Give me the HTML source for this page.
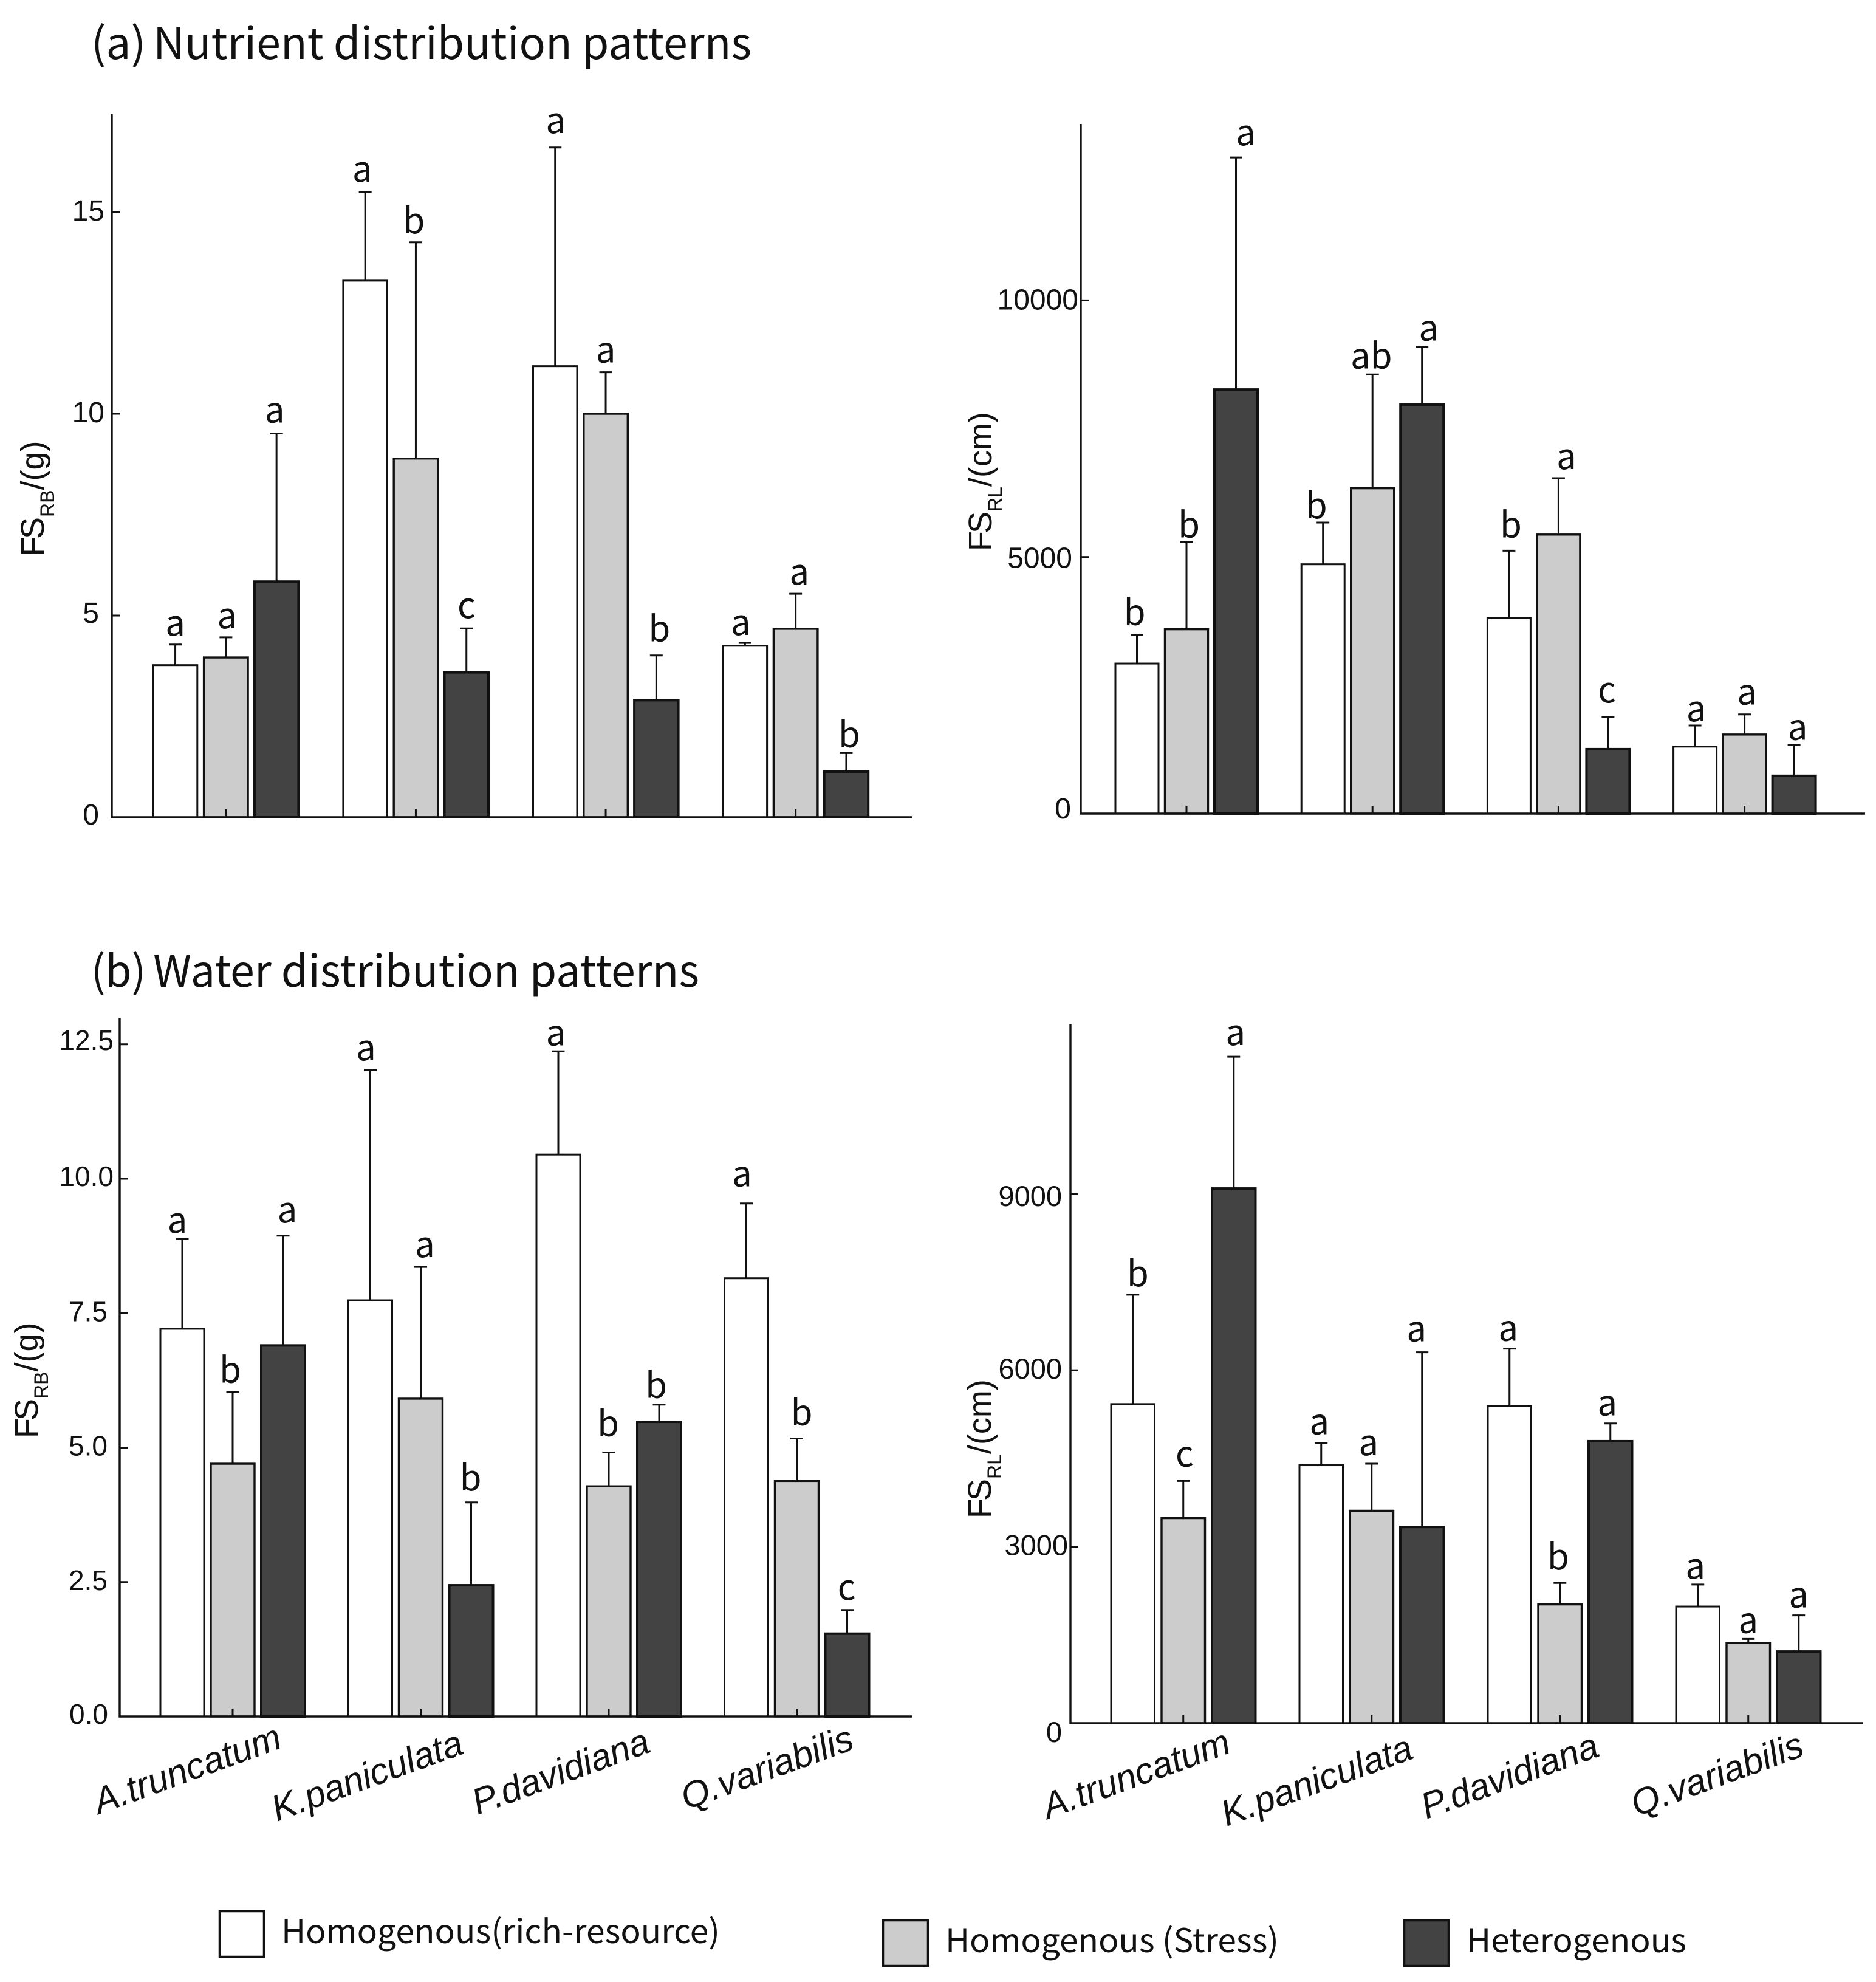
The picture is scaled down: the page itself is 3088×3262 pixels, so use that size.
<!DOCTYPE html>
<html lang="en">
<head>
<meta charset="utf-8">
<title>Foraging scale by species and distribution pattern</title>
<style>
html,body{margin:0;padding:0;background:#fff;}
svg{display:block;}
.num{font-family:"Liberation Sans",Arial,sans-serif;fill:#111;}
.noto{font-family:"Noto Sans CJK SC","Liberation Sans",sans-serif;fill:#111;}
</style>
</head>
<body>
<svg id="figure" xmlns="http://www.w3.org/2000/svg" width="3088" height="3262" viewBox="0 0 3088 3262">
  <rect x="0" y="0" width="3088" height="3262" fill="#ffffff"/>

  <text class="noto" x="150" y="97" font-size="72" textLength="90" lengthAdjust="spacingAndGlyphs">(a)</text>
  <text class="noto" x="252" y="97" font-size="72" textLength="985" lengthAdjust="spacingAndGlyphs">Nutrient distribution patterns</text>
  <text class="noto" x="150" y="1624" font-size="72" textLength="90" lengthAdjust="spacingAndGlyphs">(b)</text>
  <text class="noto" x="252" y="1624" font-size="72" textLength="899" lengthAdjust="spacingAndGlyphs">Water distribution patterns</text>

  <text class="num" transform="translate(72 916) rotate(-90)" font-size="54">F<tspan dx="-4">S</tspan><tspan dy="17" font-size="32">RB</tspan><tspan dy="-17">/(g)</tspan></text>
  <text class="num" transform="translate(1632 907) rotate(-90)" font-size="54">F<tspan dx="-4">S</tspan><tspan dy="17" font-size="32">RL</tspan><tspan dy="-17">/(cm)</tspan></text>
  <text class="num" transform="translate(62 2367) rotate(-90)" font-size="54">F<tspan dx="-4">S</tspan><tspan dy="17" font-size="32">RB</tspan><tspan dy="-17">/(g)</tspan></text>
  <text class="num" transform="translate(1631 2499) rotate(-90)" font-size="54">F<tspan dx="-4">S</tspan><tspan dy="17" font-size="32">RL</tspan><tspan dy="-17">/(cm)</tspan></text>

  <g id="panels"></g>

  <g>
    <g>
      <rect x="361.5" y="3145.5" width="73" height="75" fill="#ffffff" stroke="#111" stroke-width="3.5"/>
      <text class="noto" x="463" y="3198" font-size="54" textLength="722" lengthAdjust="spacingAndGlyphs">Homogenous(rich-resource)</text>
    </g>
    <g>
      <rect x="1453.5" y="3160.5" width="74" height="75" fill="#cccccc" stroke="#111" stroke-width="3.5"/>
      <text class="noto" x="1556" y="3213" font-size="54" textLength="549" lengthAdjust="spacingAndGlyphs">Homogenous (Stress)</text>
    </g>
    <g>
      <rect x="2311.5" y="3160.5" width="73" height="75" fill="#434343" stroke="#111" stroke-width="3.5"/>
      <text class="noto" x="2414" y="3213" font-size="54" textLength="362" lengthAdjust="spacingAndGlyphs">Heterogenous</text>
    </g>
  </g>
</svg>

<script>
const categories = ['A.truncatum', 'K.paniculata', 'P.davidiana', 'Q.variabilis'];
const seriesNames = ['rich-resource', 'stress', 'heterogenous'];

const nutrientBiomassTicks = [0, 5, 10, 15];
const nutrientBiomassTickLabels = ['0', '5', '10', '15'];
const nutrientBiomassRich = [3.77, 13.3, 11.18, 4.25];
const nutrientBiomassStress = [3.96, 8.89, 10.0, 4.67];
const nutrientBiomassHetero = [5.84, 3.59, 2.90, 1.13];
const nutrientBiomassRichSd = [0.51, 2.2, 5.42, 0.07];
const nutrientBiomassStressSd = [0.5, 5.36, 1.03, 0.87];
const nutrientBiomassHeteroSd = [3.67, 1.09, 1.11, 0.46];
const nutrientBiomassLetters = ['a','a','a', 'a','b','c', 'a','a','b', 'a','a','b'];

const nutrientLengthTicks = [0, 5000, 10000];
const nutrientLengthTickLabels = ['0', '5000', '10000'];
const nutrientLengthRich = [2924, 4858, 3807, 1305];
const nutrientLengthStress = [3592, 6339, 5437, 1541];
const nutrientLengthHetero = [8263, 7968, 1256, 736];
const nutrientLengthRichSd = [560, 814, 1315, 412];
const nutrientLengthStressSd = [1707, 2218, 1098, 392];
const nutrientLengthHeteroSd = [4523, 1129, 628, 608];
const nutrientLengthLetters = ['b','b','a', 'b','ab','a', 'b','a','c', 'a','a','a'];

const waterBiomassTicks = [0, 2.5, 5, 7.5, 10, 12.5];
const waterBiomassTickLabels = ['0.0', '2.5', '5.0', '7.5', '10.0', '12.5'];
const waterBiomassRich = [7.21, 7.74, 10.45, 8.15];
const waterBiomassStress = [4.70, 5.91, 4.28, 4.38];
const waterBiomassHetero = [6.90, 2.44, 5.48, 1.54];
const waterBiomassRichSd = [1.67, 4.28, 1.92, 1.39];
const waterBiomassStressSd = [1.34, 2.45, 0.63, 0.79];
const waterBiomassHeteroSd = [2.04, 1.54, 0.32, 0.44];
const waterBiomassLetters = ['a','b','a', 'a','a','b', 'a','b','b', 'a','b','c'];

const waterLengthTicks = [0, 3000, 6000, 9000];
const waterLengthTickLabels = ['0', '3000', '6000', '9000'];
const waterLengthRich = [5425, 4385, 5390, 1983];
const waterLengthStress = [3486, 3611, 2019, 1361];
const waterLengthHetero = [9090, 3335, 4794, 1218];
const waterLengthRichSd = [1859, 373, 978, 374];
const waterLengthStressSd = [632, 800, 365, 71];
const waterLengthHeteroSd = [2241, 2971, 302, 614];
const waterLengthLetters = ['b','c','a', 'a','a','a', 'a','b','a', 'a','a','a'];

const NS = 'http://www.w3.org/2000/svg';
const INK = '#111';
const FILLS = ['#ffffff', '#cccccc', '#434343'];
const BAR_STROKES = [3, 3.4, 4];
const root = document.getElementById('panels');

function create(tag, parent, props) {
  const el = document.createElementNS(NS, tag);
  for (const k in props) el.setAttribute(k, props[k]);
  parent.appendChild(el);
  return el;
}

function drawPanel(p) {
  const g = create('g', root, {});
  
  

  const yScale = v => p.baseY - v * p.pxPerUnit;
  const barLeft = (group, s) => p.firstBar + group * p.groupStep + s * p.barStep;

  p.values.forEach((series, s) => {
    series.forEach((value, i) => {
      const left = barLeft(i, s);
      const cx = left + p.barWidth / 2;
      const topY = yScale(value);
      const errY = yScale(value + p.sds[s][i]);

      const stem = create('line', g, {x1: cx, x2: cx, y1: topY, y2: errY, stroke: INK, 'stroke-width': 3});
      
      

      const cap = create('line', g, {x1: cx - 10.5, x2: cx + 10.5, y1: errY, y2: errY, stroke: INK, 'stroke-width': 3});
      
      

      const bar = create('rect', g, {x: left, y: topY, width: p.barWidth, height: p.baseY - topY, fill: FILLS[s], stroke: INK, 'stroke-width': BAR_STROKES[s]});
      
      

      const k = i * 3 + s;
      const letter = create('text', g, {x: cx + p.letterDx[k], y: errY - p.letterGap[k], 'font-size': 58, 'text-anchor': 'middle', class: 'noto'});
      letter.textContent = p.letters[k];
      
      
    });
  });

  const yAxis = create('line', g, {x1: p.axisX, x2: p.axisX, y1: p.axisTop, y2: p.baseY + 1.5, stroke: INK, 'stroke-width': 3.4});
  
  

  const xAxis = create('line', g, {x1: p.axisX - 1.5, x2: p.axisRight, y1: p.baseY, y2: p.baseY, stroke: INK, 'stroke-width': 3.4});
  
  

  p.ticks.forEach((t, i) => {
    const y = yScale(t);
    if (t !== 0) {
      const tick = create('line', g, {x1: p.axisX, x2: p.axisX + 13, y1: y, y2: y, stroke: INK, 'stroke-width': 3});
      
      
    }
    const label = create('text', g, {x: p.labelEnds[i], y: y + p.labelDy[i], 'font-size': p.tickFont, 'text-anchor': 'end', class: 'num'});
    label.textContent = p.tickLabels[i];
    
    
  });

  categories.forEach((name, i) => {
    const cx = barLeft(i, 1) + p.barWidth / 2;
    const tick = create('line', g, {x1: cx, x2: cx, y1: p.baseY, y2: p.baseY - 13, stroke: INK, 'stroke-width': 3});
    
    
    if (p.catStarts) {
      const s = p.catStarts[i];
      const label = create('text', g, {transform: 'translate(' + s[0] + ' ' + s[1] + ') rotate(-20)', 'font-size': 60, 'font-style': 'italic', class: 'num'});
      label.textContent = name;
      
      
    }
  });
}

drawPanel({
  name: 'panel-nutrient-biomass',
  axisX: 184, axisTop: 188, axisRight: 1501, baseY: 1345, pxPerUnit: 66.4,
  firstBar: 252.3, barWidth: 72.5, barStep: 83.3, groupStep: 312.6,
  values: [nutrientBiomassRich, nutrientBiomassStress, nutrientBiomassHetero],
  sds: [nutrientBiomassRichSd, nutrientBiomassStressSd, nutrientBiomassHeteroSd],
  letters: nutrientBiomassLetters,
  letterDx: [0,2,-3, -5,-3,0, 1,0,5, -7,6,5],
  letterGap: [15,15,18, 17,15,17, 24,16,23, 13,15,10],
  ticks: nutrientBiomassTicks, tickLabels: nutrientBiomassTickLabels,
  labelEnds: [163, 163, 172, 172], labelDy: [12, 12, 14, 14], tickFont: 48
});

drawPanel({
  name: 'panel-nutrient-length',
  axisX: 1779, axisTop: 204, axisRight: 3070, baseY: 1339, pxPerUnit: 0.08446,
  firstBar: 1836, barWidth: 71, barStep: 81.5, groupStep: 306.2,
  values: [nutrientLengthRich, nutrientLengthStress, nutrientLengthHetero],
  sds: [nutrientLengthRichSd, nutrientLengthStressSd, nutrientLengthHeteroSd],
  letters: nutrientLengthLetters,
  letterDx: [-4,4,16, -11,-2,11, 3,13,-2, 2,4,6],
  letterGap: [16,7,20, 7,10,10, 22,15,24, 7,16,8],
  ticks: nutrientLengthTicks, tickLabels: nutrientLengthTickLabels,
  labelEnds: [1763, 1765, 1775], labelDy: [8, 18, 15], tickFont: 48
});

drawPanel({
  name: 'panel-water-biomass',
  axisX: 197, axisTop: 1675, axisRight: 1501, baseY: 2825, pxPerUnit: 88.5,
  firstBar: 264, barWidth: 72, barStep: 83, groupStep: 309.5,
  values: [waterBiomassRich, waterBiomassStress, waterBiomassHetero],
  sds: [waterBiomassRichSd, waterBiomassStressSd, waterBiomassHeteroSd],
  letters: waterBiomassLetters,
  letterDx: [-8,-4,7, -7,7,-1, -4,-1,-5, -7,8,-1],
  letterGap: [10,15,22, 16,16,20, 10,27,11, 28,22,17],
  ticks: waterBiomassTicks, tickLabels: waterBiomassTickLabels,
  labelEnds: [178, 177, 177, 177, 187, 187], labelDy: [12, 13, 13, 13, 12, 9], tickFont: 46,
  catStarts: [[163, 2986], [456, 2998], [786, 2987], [1130, 2979]]
});

drawPanel({
  name: 'panel-water-length',
  axisX: 1762, axisTop: 1686, axisRight: 3067, baseY: 2836, pxPerUnit: 0.09680,
  firstBar: 1829, barWidth: 71.5, barStep: 83, groupStep: 310,
  values: [waterLengthRich, waterLengthStress, waterLengthHetero],
  sds: [waterLengthRichSd, waterLengthStressSd, waterLengthHeteroSd],
  letters: waterLengthLetters,
  letterDx: [8,2,3, -3,-5,-9, -2,-3,-5, -4,0,0],
  letterGap: [14,24,19, 15,14,18, 13,22,13, 10,10,13],
  ticks: waterLengthTicks, tickLabels: waterLengthTickLabels,
  labelEnds: [1748, 1758, 1748, 1748], labelDy: [31, 14, 14, 20], tickFont: 47,
  catStarts: [[1725, 2994], [2019, 3006], [2348, 2994], [2694, 2990]]
});
</script>
</body>
</html>
